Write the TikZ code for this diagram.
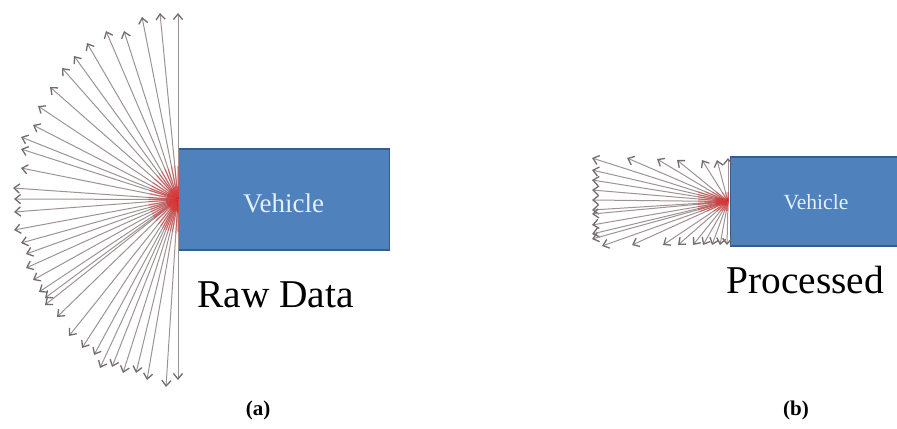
\documentclass[tikz,border=0pt]{standalone}
\usepackage{fontspec}
\setmainfont{Liberation Serif}
\usetikzlibrary{arrows.meta,calc}
\definecolor{vehfill}{RGB}{79,129,189}
\definecolor{vehedge}{RGB}{56,93,138}
\definecolor{vehtext}{RGB}{228,240,255}
\definecolor{raycol}{RGB}{158,146,148}
\definecolor{tipcol}{RGB}{115,108,110}
\tikzset{
  vehicle/.style={draw=vehedge, line width=0.6pt, fill=vehfill, inner sep=0pt, anchor=west},
  vehlabel/.style={text=vehtext, inner sep=0pt},
  ray/.style={draw=raycol, line width=0.5pt,
    -{Straight Barb[length=2.8pt,width=4.6pt,line width=0.65pt,color=tipcol]}},
  glow/.style={draw=red, line width=0.7pt, opacity=0.3},
  caption/.style={inner sep=0pt, anchor=base west, font=\fontsize{19.7}{22}\selectfont},
  panel/.style={inner sep=0pt, font=\fontsize{10.5}{12}\selectfont\bfseries}
}
\begin{document}
\begin{tikzpicture}[x=0.5pt,y=-0.5pt]
  \useasboundingbox (0,0) rectangle (897,428);
  \clip (0,0) rectangle (897,428);

  % vehicles
  \node[vehicle, minimum width=105.5pt, minimum height=50.5pt] (vehA) at (178,199.5) {};
  \node[vehicle, minimum width=86pt, minimum height=44.5pt] (vehB) at (730,201.5) {};
  \node[vehlabel, font=\fontsize{13.5}{15}\selectfont] (vehAtext) at (283.5,203) {Vehicle};
  \node[vehlabel, font=\fontsize{10.8}{12}\selectfont] (vehBtext) at (816,202) {Vehicle};

  \coordinate (oa) at (178,199.5);
  \coordinate (ob) at (728,201.5);

  % raw scan: rays fanning out to the left
  \foreach \px/\py [count=\i] in {178/13,160/13,142/17,124/31,106/31,87/43,74/56,
      62/68,50/87,38/106,33/125,21/137,21/149,21/168,13/188,14/199,
      14/212,14/230,21/243,26/254,26/268,33/280,39/292,45/298,45/305,
      57/317,69/336,82/348,94/355,100/368,112/367,123/373,136/373,
      147/380,166/387,178/380} {
    \coordinate (ra\i) at (\px,\py);
    \draw[ray] (oa) -- (ra\i);
    \draw[glow] (oa) -- ($(oa)!0.18!(ra\i)$);
    \draw[glow] (oa) -- ($(oa)!0.07!(ra\i)$);
  }

  % processed scan: rays cut at the box edges
  \foreach \px/\py [count=\i] in {592/158,627/158,657/159,677/160,702/160,717/160,728/158,
      592/170,592/180,592/190,592/200,592/210,592/214,592/225,592/234,592/239,
      602/246,632/245,663/245,678/245,693/245,703/245,712/245,720/245,727/245} {
    \coordinate (rb\i) at (\px,\py);
    \draw[ray] (ob) -- (rb\i);
    \draw[glow] (ob) -- ($(ob)!0.22!(rb\i)$);
    \draw[glow] (ob) -- ($(ob)!0.09!(rb\i)$);
  }

  % captions
  \node[caption] (capA) at (197,307) {Raw Data};
  \node[caption] (capB) at (726,293) {Processed};
  \node[panel] (labA) at (258,410) {(a)};
  \node[panel] (labB) at (796,410) {(b)};
\end{tikzpicture}
\end{document}
